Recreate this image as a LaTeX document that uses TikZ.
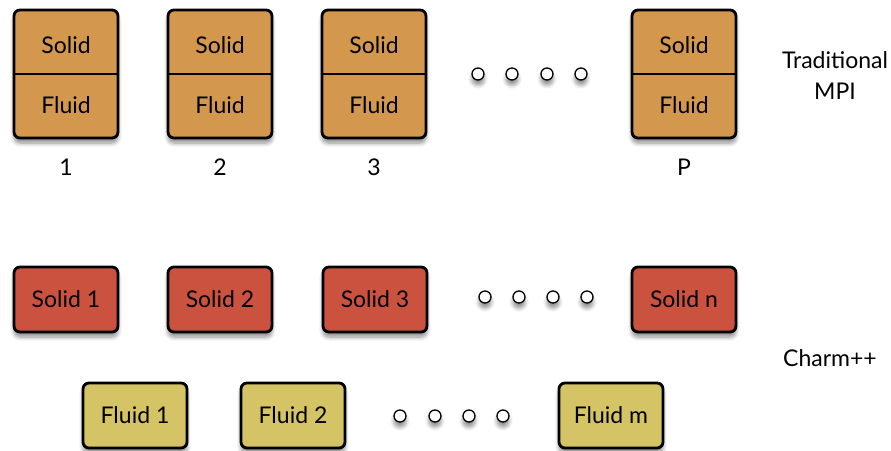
\documentclass[tikz,border=0pt]{standalone}
\usepackage{fontspec}
\setmainfont{Lato}
\usetikzlibrary{shadows.blur}
\definecolor{mpiorange}{RGB}{211,152,78}
\definecolor{solidred}{RGB}{203,82,62}
\definecolor{fluidyellow}{RGB}{212,196,102}
\tikzset{
  shad/.style={blur shadow={shadow xshift=0pt, shadow yshift=-5pt, shadow blur steps=6, shadow opacity=45, shadow blur radius=4pt}},
  txt/.style={font=\fontsize{23}{31}\selectfont},
  mpibox/.style={draw=black, line width=2.8pt, rounded corners=6pt, fill=mpiorange, minimum width=104pt, minimum height=128pt, inner sep=0pt, shad},
  solidbox/.style={draw=black, line width=2.8pt, rounded corners=6pt, fill=solidred, minimum width=104pt, minimum height=65pt, inner sep=0pt, shad, txt},
  fluidbox/.style={draw=black, line width=2.8pt, rounded corners=6pt, fill=fluidyellow, minimum width=104pt, minimum height=65pt, inner sep=0pt, shad, txt},
  lbl/.style={txt, inner sep=0pt},
  dotc/.style={circle, draw=black, line width=1.3pt, fill=white, minimum size=12pt, inner sep=0pt, shad},
  divider/.style={line width=2.2pt}
}
\begin{document}
\begin{tikzpicture}[x=1pt,y=-1pt]
\useasboundingbox (0,0) rectangle (891,450);
% top row
\foreach \n/\x/\lab in {a/66/1,b/220/2,c/374/3,p/684/P}{
  \node[mpibox] (\n) at (\x,74) {};
  \draw[divider] (\n.west) -- (\n.east);
  \node[lbl] (\n s) at (\x,45) {Solid};
  \node[lbl] (\n f) at (\x,105) {Fluid};
  \node[lbl] (\n n) at (\x,167) {\lab};
}
\foreach \i/\x in {1/478,2/512,3/547,4/581}{
  \node[dotc] (td\i) at (\x,74) {};
}
\node[lbl, align=center] (mpi) at (835,76) {Traditional\\MPI};
% solids
\node[solidbox] (s1) at (66,299.5) {Solid 1};
\node[solidbox] (s2) at (220,299.5) {Solid 2};
\node[solidbox] (s3) at (375,299.5) {Solid 3};
\node[solidbox] (sn) at (684,299.5) {Solid n};
\foreach \i/\x in {1/485,2/519,3/553,4/587}{
  \node[dotc] (sd\i) at (\x,297) {};
}
% fluids
\node[fluidbox] (f1) at (135,415.5) {Fluid 1};
\node[fluidbox] (f2) at (293,415.5) {Fluid 2};
\node[fluidbox] (fm) at (611,415.5) {Fluid m};
\foreach \i/\x in {1/400,2/435,3/469,4/503}{
  \node[dotc] (fd\i) at (\x,416) {};
}
\node[lbl] (charm) at (830,358) {Charm++};
\end{tikzpicture}
\end{document}
